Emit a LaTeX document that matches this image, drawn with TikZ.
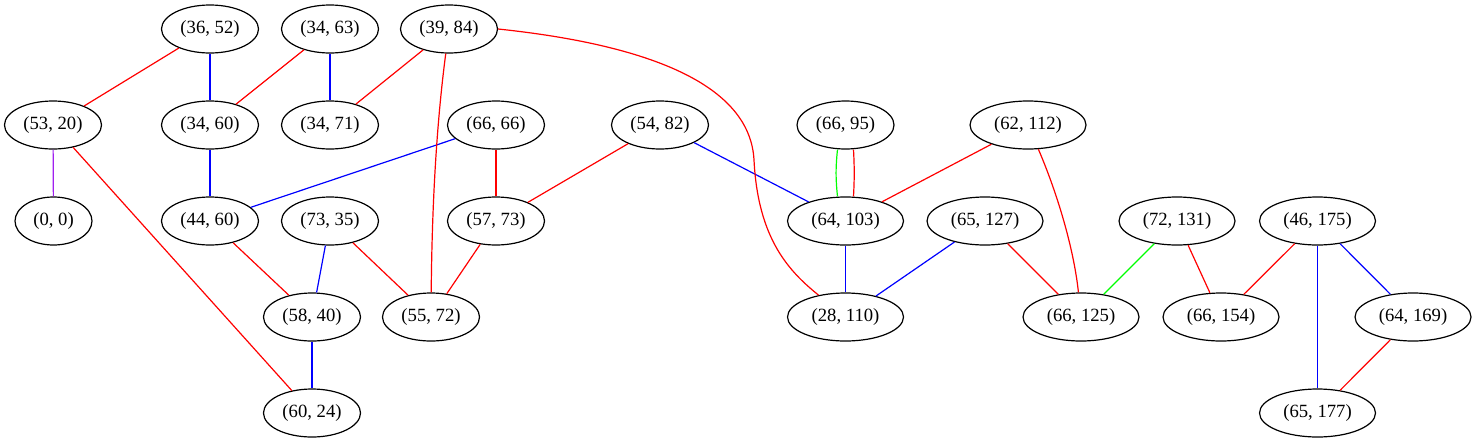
\documentclass[tikz,border=0pt]{standalone}
\usepackage{fontspec}
\setmainfont{Liberation Serif}
\usepackage{tikz}
\usetikzlibrary{shapes.geometric}
\definecolor{edgepurple}{HTML}{A020F0}

\begin{document}
\begin{tikzpicture}[x=0.75pt,y=-0.75pt,
    main node/.style={ellipse,draw,line width=0.9pt,inner sep=0pt,
      minimum width=72.75pt,minimum height=36pt,font=\fontsize{14}{16}\selectfont},
    wide node/.style={main node,minimum width=87pt},
    small node/.style={main node,minimum width=57.75pt},
    every edge/.style={draw,line width=0.9pt}]

  \useasboundingbox (0,0) rectangle (1477,443);

  % Define vertices by coordinates
  \node[main node] (p3652) at (210,29) {(36, 52)};
  \node[main node] (p3463) at (330,29) {(34, 63)};
  \node[main node] (p3984) at (449,29) {(39, 84)};

  \node[main node] (p5320) at (53,125) {(53, 20)};
  \node[main node] (p3460) at (210,125) {(34, 60)};
  \node[main node] (p3471) at (330,125) {(34, 71)};
  \node[main node] (p6666) at (496,125) {(66, 66)};
  \node[main node] (p5482) at (660,125) {(54, 82)};
  \node[main node] (p6695) at (845.5,125) {(66, 95)};
  \node[wide node] (p62112) at (1028,125) {(62, 112)};

  \node[small node] (p00) at (53.5,221) {(0, 0)};
  \node[main node] (p4460) at (210,221) {(44, 60)};
  \node[main node] (p7335) at (330,221) {(73, 35)};
  \node[main node] (p5773) at (496,221) {(57, 73)};
  \node[wide node] (p64103) at (845.5,221) {(64, 103)};
  \node[wide node] (p65127) at (985,221) {(65, 127)};
  \node[wide node] (p72131) at (1177,221) {(72, 131)};
  \node[wide node] (p46175) at (1317.5,221) {(46, 175)};

  \node[main node] (p5840) at (312,317) {(58, 40)};
  \node[main node] (p5572) at (431,317) {(55, 72)};
  \node[wide node] (p28110) at (845.5,317) {(28, 110)};
  \node[wide node] (p66125) at (1081,317) {(66, 125)};
  \node[wide node] (p66154) at (1221,317) {(66, 154)};
  \node[wide node] (p64169) at (1413,317) {(64, 169)};

  \node[main node] (p6024) at (312,413) {(60, 24)};
  \node[wide node] (p65177) at (1317.5,413) {(65, 177)};

  % Draw straight edges
  \path
    (p3652) edge[red] (p5320)
    (p3652) edge[blue] (p3460)
    (p3463) edge[red] (p3460)
    (p3463) edge[blue] (p3471)
    (p3984) edge[red] (p3471)
    (p5320) edge[edgepurple] (p00)
    (p5320) edge[red] (p6024)
    (p3460) edge[blue] (p4460)
    (p6666) edge[blue] (p4460)
    (p6666) edge[red] (p5773)
    (p5482) edge[red] (p5773)
    (p5482) edge[blue] (p64103)
    (p62112) edge[red] (p64103)
    (p4460) edge[red] (p5840)
    (p7335) edge[blue] (p5840)
    (p7335) edge[red] (p5572)
    (p5773) edge[red] (p5572)
    (p64103) edge[blue] (p28110)
    (p65127) edge[blue] (p28110)
    (p65127) edge[red] (p66125)
    (p72131) edge[green] (p66125)
    (p72131) edge[red] (p66154)
    (p46175) edge[red] (p66154)
    (p46175) edge[blue] (p65177)
    (p46175) edge[blue] (p64169)
    (p64169) edge[red] (p65177)
    (p5840) edge[blue] (p6024);

  % Draw curved edges
  \draw[red,line width=0.9pt] (p3984) .. controls (437,120) and (432,200) .. (p5572);
  \draw[red,line width=0.9pt] (p3984.east) .. controls (650,45) and (750,85) .. (754,160)
    .. controls (758,240) and (790,272) .. (p28110);
  \draw[red,line width=0.9pt] (p62112) .. controls (1058,195) and (1074,250) .. (p66125);
  \draw[green,line width=0.9pt] ([xshift=-6pt]p6695.south) to[bend right=6] ([xshift=-6pt]p64103.north);
  \draw[red,line width=0.9pt] ([xshift=6pt]p6695.south) to[bend left=3] ([xshift=6pt]p64103.north);
\end{tikzpicture}
\end{document}
